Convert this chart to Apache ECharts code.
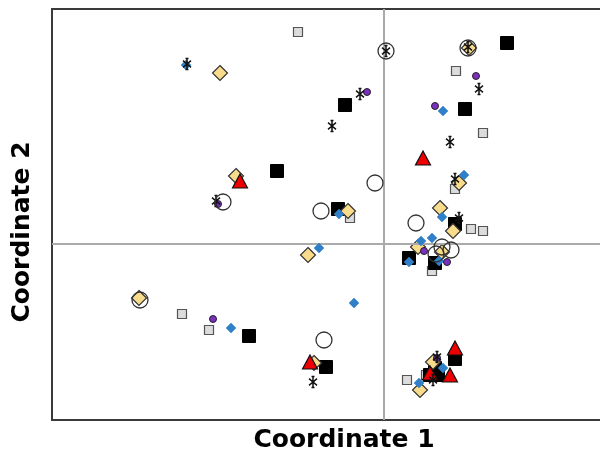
<!DOCTYPE html>
<html><head><meta charset="utf-8">
<script src="https://cdn.jsdelivr.net/npm/echarts@6/dist/echarts.min.js"></script>
<style>html,body{margin:0;padding:0;background:#fff}#c{width:600px;height:456px}</style>
</head><body><div id="c"></div>
<script>
const xTitle = 'Coordinate 1';
const yTitle = 'Coordinate 2';
const openCircles = [[0.02,1.93],[0.84,1.96],[-0.09,0.61],[-0.63,0.33],[0.32,0.21],[0.58,-0.03],[0.67,-0.06],[0.52,-0.10],[-1.61,0.42],[-2.44,-0.56],[-0.60,-0.96]];
const blackSquares = [[1.23,2.01],[-0.39,1.39],[0.81,1.35],[-1.07,0.73],[-0.46,0.35],[0.71,0.20],[0.25,-0.14],[0.51,-0.19],[-1.35,-0.92],[-0.58,-1.23],[0.71,-1.15],[0.51,-1.24],[0.54,-1.31],[0.46,-1.31]];
const graySquares = [[-0.86,2.12],[0.72,1.73],[0.99,1.11],[0.71,0.55],[-0.34,0.26],[0.87,0.15],[0.99,0.13],[0.48,-0.27],[-2.02,-0.70],[-1.75,-0.86],[0.23,-1.36],[0.42,-1.31]];
const yellowDiamonds = [[-1.64,1.71],[-1.48,0.68],[0.85,1.96],[0.75,0.61],[-0.36,0.33],[0.56,0.36],[0.69,0.13],[0.34,-0.03],[0.58,-0.08],[-0.76,-0.11],[-2.45,-0.54],[-0.70,-1.19],[0.49,-1.18],[0.36,-1.46]];
const redTriangles = [[-1.44,0.63],[0.39,0.86],[-0.74,-1.18],[0.71,-1.04],[0.66,-1.31],[0.46,-1.29]];
const blueDiamonds = [[-1.98,1.79],[0.59,1.33],[0.80,0.69],[-0.45,0.30],[0.58,0.27],[0.48,0.06],[0.37,0.03],[0.25,-0.18],[0.55,-0.17],[-0.65,-0.04],[-0.30,-0.59],[-1.53,-0.84],[0.59,-1.24],[0.35,-1.39]];
const purpleCircles = [[-1.66,0.40],[0.92,1.68],[-0.17,1.52],[0.51,1.38],[0.40,-0.07],[0.63,-0.18],[-1.71,-0.75],[0.53,-1.14]];
const asterisks = [[-1.97,1.80],[-1.68,0.43],[0.02,1.93],[0.84,1.97],[0.95,1.55],[-0.24,1.50],[-0.52,1.18],[0.66,1.02],[0.71,0.65],[0.75,0.26],[-0.71,-1.38],[0.53,-1.13],[0.49,-1.36]];

const chart = echarts.init(document.getElementById('c'), null, {renderer:'canvas'});
const frameLine = {show:true, onZero:false, lineStyle:{color:'#3a3a3a', width:2}};
const base = {axisLabel:{show:false},axisTick:{show:false},splitLine:{show:false}};
function sc(data, symbol, size, fill, border, bw, z){
  return {type:'scatter', data, symbol, symbolSize:size, symbolKeepAspect:true, z,
    itemStyle:{color:fill, borderColor:border, borderWidth:bw, opacity:1}, emphasis:{disabled:true}};
}
const aster = 'path://M5,0L5,10M1,2L9,8M1,8L9,2M3.5,0L6.5,0M3.5,10L6.5,10';
const series = [
  sc(graySquares,'rect',9,'#dcdcdc','#555',1.2,2),
  sc(blackSquares,'rect',13,'#000','#000',1,3),
  sc(yellowDiamonds,'diamond',[15,15],'#f9dc8b','#333',1.2,4),
  sc(redTriangles,'triangle',[15,14],'#ee0000','#111',1.2,5),
  sc(blueDiamonds,'diamond',[10,10],'#2f80c8','#2f80c8',0.5,6),
  sc(purpleCircles,'circle',7,'#7a2fc0','#222',1,7),
  sc(asterisks,aster,[10,11],'none','#111',1.6,8),
  sc(openCircles,'circle',16,'none','#333',1.3,9)
];
series[0].markLine = {silent:true, symbol:'none', animation:false, label:{show:false},
  lineStyle:{color:'#aaaaaa', width:2, type:'solid'}, data:[{xAxis:0},{yAxis:0}]};
chart.setOption({
  animation:false,
  grid:{left:52, top:9, right:0, bottom:36, show:false},
  xAxis:[
    Object.assign({type:'value', min:-3.32, max:2.16, position:'bottom', axisLine:frameLine}, base),
    Object.assign({type:'value', min:-3.32, max:2.16, position:'top', axisLine:frameLine}, base)
  ],
  yAxis:Object.assign({type:'value', min:-1.76, max:2.35, position:'left', axisLine:frameLine}, base),
  series,
  graphic:[
    {type:'text', x:344, y:440, style:{text:xTitle, font:'bold 25px "DejaVu Sans"', fill:'#000', textAlign:'center', textVerticalAlign:'middle'}},
    {type:'text', x:22, y:232, rotation:Math.PI/2, style:{text:yTitle, font:'bold 25px "DejaVu Sans"', fill:'#000', textAlign:'center', textVerticalAlign:'middle'}}
  ]
});
</script></body></html>
